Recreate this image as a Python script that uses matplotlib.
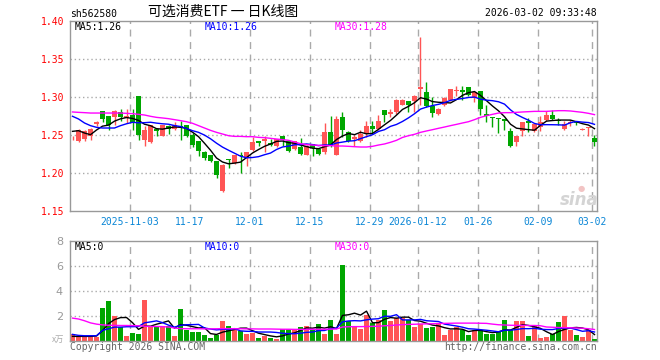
import matplotlib
matplotlib.use('Agg')
import matplotlib.pyplot as plt
import numpy as np
import pandas as pd

# daily K-line of sh562580, 2025-10-20 .. 2026-03-02 (88 sessions)
opens = [1.2460, 1.2417, 1.2452, 1.2482, 1.2645, 1.2811, 1.2754, 1.2737, 1.2798, 1.2724,
         1.2768, 1.3009, 1.2439, 1.2404, 1.2579, 1.2491, 1.2623, 1.2583, 1.2618, 1.2636,
         1.2504, 1.2417, 1.2272, 1.2241, 1.2154, 1.1759, 1.2189, 1.2132, 1.2232, 1.2211,
         1.2298, 1.2425, 1.2417, 1.2395, 1.2351, 1.2491, 1.2425, 1.2320, 1.2338, 1.2241,
         1.2382, 1.2316, 1.2272, 1.2544, 1.2241, 1.2732, 1.2535, 1.2452, 1.2425, 1.2518,
         1.2614, 1.2583, 1.2833, 1.2776, 1.2798, 1.2899, 1.2952, 1.2943, 1.3105, 1.3070,
         1.2877, 1.2781, 1.2899, 1.2956, 1.3075, 1.3096, 1.3132, 1.2987, 1.3075, 1.2776,
         1.2737, 1.2719, 1.2711, 1.2548, 1.2404, 1.2548, 1.2680, 1.2548, 1.2605, 1.2693,
         1.2763, 1.2702, 1.2579, 1.2654, 1.2667, 1.2566, 1.2588, 1.2461]
highs = [1.2482, 1.2579, 1.2561, 1.2592, 1.2689, 1.2811, 1.2754, 1.2825, 1.2846, 1.2842,
         1.2846, 1.3009, 1.2614, 1.2636, 1.2592, 1.2636, 1.2636, 1.2667, 1.2680, 1.2636,
         1.2526, 1.2417, 1.2285, 1.2241, 1.2154, 1.2123, 1.2189, 1.2241, 1.2276, 1.2276,
         1.2474, 1.2425, 1.2491, 1.2452, 1.2447, 1.2491, 1.2425, 1.2417, 1.2461, 1.2373,
         1.2382, 1.2329, 1.2658, 1.2754, 1.2754, 1.2798, 1.2548, 1.2504, 1.2570, 1.2680,
         1.2689, 1.2768, 1.2833, 1.2842, 1.2974, 1.2974, 1.2952, 1.3031, 1.3789, 1.3197,
         1.3000, 1.2855, 1.3000, 1.3105, 1.3140, 1.3149, 1.3132, 1.3083, 1.3075, 1.2899,
         1.2737, 1.2719, 1.2711, 1.2592, 1.2491, 1.2671, 1.2724, 1.2645, 1.2754, 1.2811,
         1.2833, 1.2724, 1.2689, 1.2693, 1.2680, 1.2588, 1.2601, 1.2504]
lows = [1.2430, 1.2408, 1.2417, 1.2439, 1.2614, 1.2671, 1.2561, 1.2627, 1.2680, 1.2658,
        1.2561, 1.2439, 1.2351, 1.2395, 1.2491, 1.2482, 1.2518, 1.2570, 1.2439, 1.2474,
        1.2342, 1.2219, 1.2175, 1.2145, 1.1934, 1.1746, 1.2066, 1.2123, 1.2000, 1.2096,
        1.2285, 1.2360, 1.2272, 1.2360, 1.2342, 1.2360, 1.2272, 1.2307, 1.2232, 1.2232,
        1.2219, 1.2241, 1.2254, 1.2342, 1.2232, 1.2474, 1.2404, 1.2360, 1.2404, 1.2474,
        1.2518, 1.2570, 1.2667, 1.2737, 1.2781, 1.2890, 1.2798, 1.2798, 1.2899, 1.2864,
        1.2732, 1.2768, 1.2886, 1.2943, 1.3018, 1.2965, 1.3009, 1.2930, 1.2759, 1.2667,
        1.2605, 1.2526, 1.2570, 1.2338, 1.2351, 1.2482, 1.2535, 1.2535, 1.2557, 1.2680,
        1.2702, 1.2636, 1.2570, 1.2614, 1.2627, 1.2561, 1.2491, 1.2360]
closes = [1.2460, 1.2570, 1.2548, 1.2579, 1.2671, 1.2715, 1.2636, 1.2811, 1.2732, 1.2754,
          1.2658, 1.2504, 1.2561, 1.2636, 1.2557, 1.2627, 1.2579, 1.2632, 1.2610, 1.2491,
          1.2373, 1.2285, 1.2197, 1.2154, 1.1978, 1.2110, 1.2167, 1.2241, 1.2219, 1.2276,
          1.2412, 1.2395, 1.2452, 1.2373, 1.2447, 1.2439, 1.2285, 1.2417, 1.2250, 1.2351,
          1.2329, 1.2254, 1.2544, 1.2360, 1.2715, 1.2561, 1.2417, 1.2469, 1.2518, 1.2614,
          1.2583, 1.2689, 1.2768, 1.2803, 1.2965, 1.2956, 1.2890, 1.3009, 1.3132, 1.2877,
          1.2789, 1.2846, 1.2991, 1.3105, 1.3096, 1.3070, 1.3022, 1.3066, 1.2846, 1.2754,
          1.2719, 1.2706, 1.2680, 1.2351, 1.2491, 1.2671, 1.2658, 1.2645, 1.2671, 1.2768,
          1.2711, 1.2689, 1.2645, 1.2667, 1.2658, 1.2583, 1.2601, 1.2408]
volumes = [0.58, 0.37, 0.37, 0.37, 0.32, 2.67, 3.22, 1.98, 1.16, 0.37,
           0.61, 0.53, 3.30, 1.11, 1.16, 1.24, 1.24, 0.37, 2.59, 0.85,
           0.71, 0.71, 0.45, 0.24, 0.50, 1.64, 1.24, 0.98, 0.77, 0.53,
           0.61, 0.24, 0.42, 0.24, 0.16, 0.98, 0.98, 0.90, 1.16, 1.24,
           0.85, 1.37, 0.53, 1.72, 0.53, 6.08, 1.64, 1.16, 0.95, 2.11,
           1.43, 1.69, 2.51, 1.64, 1.85, 1.85, 1.69, 1.16, 1.37, 1.03,
           1.11, 1.37, 0.45, 0.85, 1.11, 0.90, 0.45, 0.90, 0.90, 0.58,
           0.53, 0.71, 1.72, 0.85, 1.64, 1.64, 0.37, 1.19, 0.21, 0.29,
           0.53, 1.56, 2.03, 0.85, 0.45, 0.29, 0.85, 0.13]

# MA30 (needs history before the window)
ma30 = [1.2803, 1.2798, 1.2794, 1.2789, 1.2789, 1.2789, 1.2789, 1.2789, 1.2789, 1.2785,
        1.2781, 1.2772, 1.2763, 1.2746, 1.2732, 1.2724, 1.2715, 1.2702, 1.2689, 1.2675,
        1.2654, 1.2623, 1.2592, 1.2561, 1.2535, 1.2513, 1.2491, 1.2482, 1.2482, 1.2478,
        1.2478, 1.2469, 1.2465, 1.2456, 1.2447, 1.2439, 1.2430, 1.2408, 1.2386, 1.2373,
        1.2368, 1.2364, 1.2360, 1.2360, 1.2355, 1.2355, 1.2351, 1.2346, 1.2342, 1.2342,
        1.2351, 1.2368, 1.2382, 1.2404, 1.2430, 1.2468, 1.2491, 1.2509, 1.2535, 1.2553,
        1.2570, 1.2588, 1.2605, 1.2623, 1.2640, 1.2658, 1.2675, 1.2702, 1.2732, 1.2754,
        1.2772, 1.2789, 1.2794, 1.2794, 1.2798, 1.2803, 1.2807, 1.2811, 1.2811, 1.2811,
        1.2816, 1.2820, 1.2820, 1.2816, 1.2807, 1.2798, 1.2785, 1.2768]
vol_ma30 = [1.83, 1.76, 1.62, 1.45, 1.35, 1.29, 1.26, 1.25, 1.24, 1.24,
            1.23, 1.22, 1.18, 1.16, 1.16, 1.15, 1.12, 1.04, 0.99, 0.98,
            0.98, 0.98, 0.97, 0.97, 0.98, 0.99, 0.99, 0.98, 0.98, 0.97,
            0.97, 0.96, 0.96, 0.96, 0.95, 0.94, 0.94, 0.93, 0.93, 0.93,
            0.94, 0.94, 0.94, 0.95, 0.96, 1.12, 1.14, 1.15, 1.15, 1.16,
            1.17, 1.18, 1.22, 1.24, 1.28, 1.31, 1.33, 1.34, 1.36, 1.37,
            1.38, 1.40, 1.41, 1.42, 1.43, 1.43, 1.43, 1.43, 1.42, 1.41,
            1.35, 1.30, 1.28, 1.26, 1.25, 1.25, 1.24, 1.24, 1.22, 1.12,
            1.10, 1.08, 1.07, 1.06, 1.04, 1.02, 0.98, 0.92]
# first points of MA5 / MA10 (window starts before the chart)
ma5_head = [1.2548, 1.2557, 1.2526, 1.2504]
ma10_head = [1.2746, 1.2711, 1.2658, 1.2623, 1.2601, 1.2592, 1.2592, 1.2592, 1.2623]
vol_ma5_head = [0.37, 0.37, 0.37, 0.37]
vol_ma10_head = [0.53, 0.45, 0.42, 0.42, 0.42, 0.85, 0.98, 1.11, 1.11]

tick_idx = [10, 20, 30, 40, 50, 58, 68, 78, 87]
tick_labels = ['2025-11-03', '11-17', '12-01', '12-15', '12-29',
               '2026-01-12', '01-26', '02-09', '03-02']

df = pd.DataFrame({'o': opens, 'h': highs, 'l': lows, 'c': closes, 'v': volumes})
ma5 = df.c.rolling(5).mean().values
ma5[:4] = ma5_head
ma10 = df.c.rolling(10).mean().values
ma10[:9] = ma10_head
vma5 = df.v.rolling(5).mean().values
vma5[:4] = vol_ma5_head
vma10 = df.v.rolling(10).mean().values
vma10[:9] = vol_ma10_head

RED = '#ff5555'
GREEN = '#00a600'
GRID = '#aaaaaa'
MONO = 'DejaVu Sans Mono'

W, H = 660, 360
fig = plt.figure(figsize=(6.6, 3.6), dpi=100)
fig.patch.set_facecolor('white')

def box(l, t, r, b):
    return [l / W, 1 - b / H, (r - l) / W, (b - t) / H]

def ftext(x, y, s, **kw):
    return fig.text(x / W, 1 - y / H, s, **kw)

ax = fig.add_axes(box(70, 21, 597, 211))
axv = fig.add_axes(box(70, 241, 597, 341))

x = np.arange(len(df))
up = df.c >= df.o
colors = np.where(up, RED, GREEN)
body_lo = np.minimum(df.o, df.c)
body_h = np.maximum((df.c - df.o).abs(), 0.0005)

xmin, xmax = -0.4167, len(df) - 0.5833
for a in (ax, axv):
    a.set_xlim(xmin, xmax)
    for s in a.spines.values():
        s.set_color('#999999')
        s.set_linewidth(1)
    a.tick_params(length=0)
    for t in tick_idx:
        a.axvline(t - 0.4167, color=GRID, lw=1, ls=(0, (5, 4)), zorder=0)

# sina watermark, behind the candles
ftext(579, 200, 'sina', color='#d4d4d4', fontsize=12, style='italic',
      weight='bold', ha='center', va='center', zorder=0)
ftext(581, 188, '●', color='#f2c4c4', fontsize=6, ha='center', va='center', zorder=0)

# price panel
ax.patch.set_alpha(0)
ax.vlines(x, df.l, df.h, colors=colors, lw=1, zorder=2)
ax.bar(x, body_h, bottom=body_lo, width=0.82, color=colors, lw=0, zorder=3)
ax.plot(x, ma5, color='black', lw=1, zorder=4)
ax.plot(x, ma10, color='#0000ff', lw=1, zorder=4)
ax.plot(x, ma30, color='#ff00ff', lw=1, zorder=4)
ax.set_ylim(1.15, 1.40)
ax.set_yticks([1.15, 1.20, 1.25, 1.30, 1.35, 1.40])
ax.set_yticklabels(['%.2f' % v for v in [1.15, 1.20, 1.25, 1.30, 1.35, 1.40]],
                   color='#ff0000', family=MONO, fontsize=7)
ax.tick_params(axis='y', pad=4)
for yv in [1.20, 1.25, 1.30, 1.35]:
    ax.axhline(yv, color=GRID, lw=1, ls=(0, (1, 2)), zorder=0)
ax.set_xticks([t - 0.4167 for t in tick_idx])
ax.set_xticklabels(tick_labels, color='#0a86d6', family=MONO, fontsize=7)
ax.tick_params(axis='x', pad=4)

# volume panel
axv.bar(x, df.v, width=0.82, color=colors, lw=0, zorder=2)
axv.plot(x, vma5, color='black', lw=1, zorder=4)
axv.plot(x, vma10, color='#0000ff', lw=1, zorder=4)
axv.plot(x, vol_ma30, color='#ff00ff', lw=1, zorder=4)
axv.set_ylim(0, 8)
axv.set_yticks([2, 4, 6, 8])
axv.set_yticklabels(['2', '4', '6', '8'], color='#999999', fontsize=8)
axv.tick_params(axis='y', pad=5)
axv.set_xticks([])
for yv in [2, 4, 6]:
    axv.axhline(yv, color=GRID, lw=1, ls=(0, (1, 2)), zorder=0)

# texts
ftext(70, 14, 'sh562580', family=MONO, fontsize=7, va='center')
ftext(223, 12, '可选消费ETF 一 日K线图', family=['Noto Sans CJK SC', 'DejaVu Sans'],
      fontsize=10, ha='center', va='center')
ftext(597, 13, '2026-03-02 09:33:48', family=MONO, fontsize=7, ha='right', va='center')
ftext(75, 27, 'MA5:1.26', family=MONO, fontsize=7, va='center', color='black')
ftext(205, 27, 'MA10:1.26', family=MONO, fontsize=7, va='center', color='#0000ff')
ftext(335, 27, 'MA30:1.28', family=MONO, fontsize=7, va='center', color='#ff00ff')
ftext(75, 247, 'MA5:0', family=MONO, fontsize=7, va='center', color='black')
ftext(205, 247, 'MA10:0', family=MONO, fontsize=7, va='center', color='#0000ff')
ftext(335, 247, 'MA30:0', family=MONO, fontsize=7, va='center', color='#ff00ff')
ftext(64, 339, 'x万', family=['Noto Sans CJK SC', 'DejaVu Sans'], fontsize=6,
      ha='right', va='center', color='#aaaaaa')
ftext(70, 347, 'Copyright 2026 SINA.COM', family=MONO, fontsize=7, va='center', color='#666666')
ftext(597, 347, 'http://finance.sina.com.cn', family=MONO, fontsize=7, ha='right',
      va='center', color='#666666')

fig.savefig('out.png', dpi=100)
